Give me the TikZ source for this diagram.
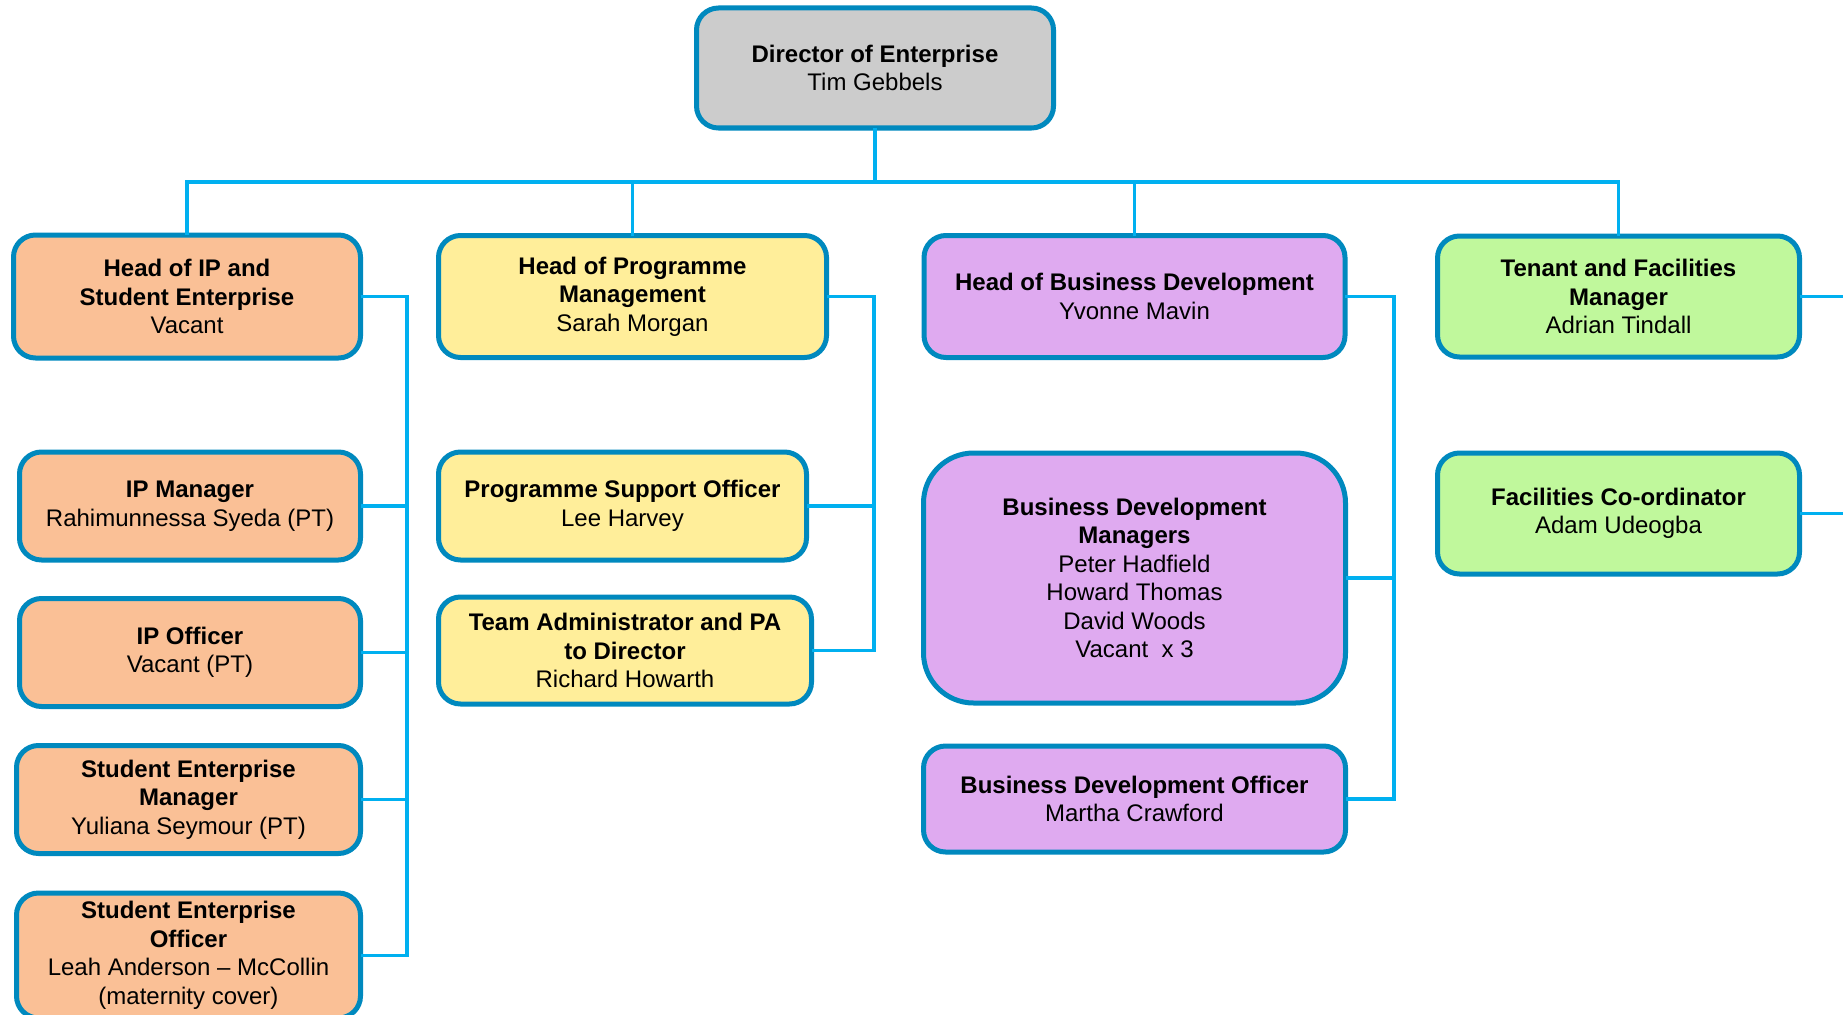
\documentclass[tikz,border=0pt]{standalone}
\usepackage{fontspec}
\setmainfont{Liberation Sans}
\definecolor{bordc}{RGB}{0,137,190}
\definecolor{connc}{RGB}{0,176,240}
\definecolor{orangef}{RGB}{250,192,150}
\definecolor{yellowf}{RGB}{255,238,154}
\definecolor{purplef}{RGB}{223,170,240}
\definecolor{greenf}{RGB}{192,248,156}
\definecolor{grayf}{RGB}{204,204,204}
\begin{document}
\begin{tikzpicture}[x=1pt,y=-1pt,
  box/.style={draw=bordc, line width=5pt, rounded corners=22pt, align=center,
    inner sep=0pt, outer sep=0pt, font=\fontsize{24}{28.5}\selectfont, text=black},
  conn/.style={draw=connc, line width=3.5pt}]
\useasboundingbox (0,0) rectangle (1843,1014);
\clip (0,0) rectangle (1843,1014);
% top
\node[box, fill=grayf, minimum width=357pt, minimum height=120pt] (dir) at (875,68)
  {\textbf{Director of Enterprise}\\Tim Gebbels};
% row 1
\node[box, fill=orangef, minimum width=347pt, minimum height=123pt] (hip) at (187,296.5)
  {\textbf{Head of IP and}\\\textbf{Student Enterprise}\\Vacant};
\node[box, fill=yellowf, minimum width=388pt, minimum height=122pt] (hpm) at (632.5,296.5)
  {\textbf{Head of Programme}\\\textbf{Management}\\Sarah Morgan};
\node[box, fill=purplef, minimum width=421pt, minimum height=122pt] (hbd) at (1134.5,296.5)
  {\textbf{Head of Business Development}\\Yvonne Mavin};
\node[box, fill=greenf, minimum width=362pt, minimum height=121pt] (ten) at (1618.5,296.5)
  {\textbf{Tenant and Facilities}\\\textbf{Manager}\\Adrian Tindall};
% IP column
\node[box, fill=orangef, minimum width=341pt, minimum height=108pt] (ipm) at (190,506)
  {\textbf{IP Manager}\\Rahimunnessa Syeda (PT)};
\node[box, fill=orangef, minimum width=341pt, minimum height=108pt] (ipo) at (190,652.5)
  {\textbf{IP Officer}\\Vacant (PT)};
\node[box, fill=orangef, minimum width=344pt, minimum height=108pt] (sem) at (188.5,799.5)
  {\textbf{Student Enterprise}\\\textbf{Manager}\\Yuliana Seymour (PT)};
\node[box, fill=orangef, minimum width=344pt, minimum height=125pt] (seo) at (188.5,955.5)
  {\textbf{Student Enterprise}\\\textbf{Officer}\\Leah Anderson -- McCollin\\(maternity cover)};
% Programme column
\node[box, fill=yellowf, minimum width=368pt, minimum height=108pt] (pso) at (622.5,506)
  {\textbf{Programme Support Officer}\\Lee Harvey};
\node[box, fill=yellowf, minimum width=373pt, minimum height=107pt] (tad) at (625,650.5)
  {\textbf{Team Administrator and PA}\\\textbf{to Director}\\Richard Howarth};
% BD column
\node[box, fill=purplef, rounded corners=50pt, minimum width=422pt, minimum height=250pt] (bdm) at (1134.5,578)
  {\textbf{Business Development}\\\textbf{Managers}\\Peter Hadfield\\Howard Thomas\\David Woods\\Vacant\ \ x 3};
\node[box, fill=purplef, minimum width=422pt, minimum height=106pt] (bdo) at (1134.5,799)
  {\textbf{Business Development Officer}\\Martha Crawford};
% Facilities
\node[box, fill=greenf, minimum width=362pt, minimum height=121pt] (fac) at (1618.5,513.5)
  {\textbf{Facilities Co-ordinator}\\Adam Udeogba};
% connectors from director
\draw[conn] (dir.south) -- ++(0,54) -| (hip.north);
\draw[conn] (dir.south) -- ++(0,54) -| (hpm.north);
\draw[conn] (dir.south) -- ++(0,54) -| (hbd.north);
\draw[conn] (dir.south) -- ++(0,54) -| (ten.north);
% IP column
\draw[conn] (hip.east) -- ++(46.5,0) |- (ipm.east);
\draw[conn] (hip.east) -- ++(46.5,0) |- (ipo.east);
\draw[conn] (hip.east) -- ++(46.5,0) |- (sem.east);
\draw[conn] (hip.east) -- ++(46.5,0) |- (seo.east);
% Programme column
\draw[conn] (hpm.east) -- ++(47.5,0) |- (pso.east);
\draw[conn] (hpm.east) -- ++(47.5,0) |- (tad.east);
% BD column
\draw[conn] (hbd.east) -- ++(49,0) |- (bdm.east);
\draw[conn] (hbd.east) -- ++(49,0) |- (bdo.east);
% Facilities
\draw[conn] (ten.east) -- ++(60,0) |- (fac.east);
\end{tikzpicture}
\end{document}
